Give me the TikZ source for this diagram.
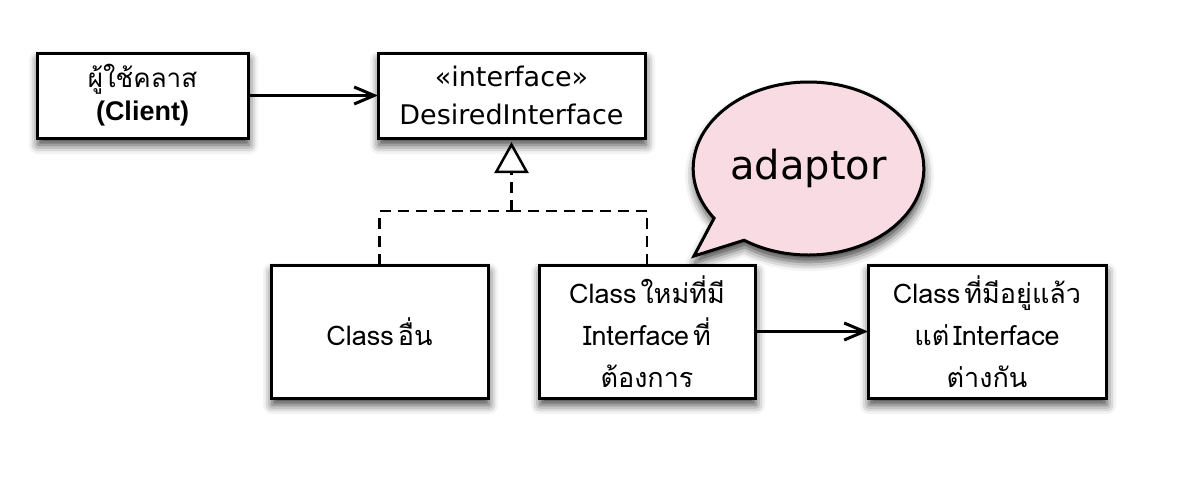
\documentclass[tikz,border=0pt]{standalone}
\usepackage{fontspec}
\setmainfont{DejaVu Sans}
\newfontfamily\thaifont[Script=Thai]{Loma}
\newfontfamily\helv{Liberation Sans}
\usetikzlibrary{arrows.meta,positioning,shapes.callouts,shadows.blur,backgrounds}
\definecolor{bubblepink}{RGB}{249,220,227}

\begin{document}
\begin{tikzpicture}[
  x=1pt, y=1pt,
  softshadow/.style={blur shadow={shadow xshift=1pt, shadow yshift=-7pt, shadow blur radius=9pt, shadow opacity=75}},
  box/.style={draw, line width=3pt, fill=white, align=center, outer sep=0pt, inner sep=0pt, minimum width=#1, softshadow},
  box/.default={216pt},
  classbox/.style={box=#1, minimum height=133pt, font=\thaifont\fontsize{27}{42}\selectfont},
  assoc/.style={draw, line width=2.5pt, -{Straight Barb[length=20pt, width=17pt, line width=3pt]}},
  realize/.style={draw, line width=2.5pt, dash pattern=on 11pt off 7pt},
  bubble/.style={ellipse callout, draw, line width=3pt, fill=bubblepink, softshadow, callout pointer arc=21},
]
\useasboundingbox (0,0) rectangle (1188,-482);

% top row
\node[box=211pt, minimum height=85pt, font=\fontsize{27}{33}\selectfont] (client) at (142.5,-95.5)
  {{\thaifont\fontsize{26}{33}\selectfont ผู้ใช้คลาส}\\{\helv\bfseries (Client)}};
\node[box=267pt, minimum height=85pt, font=\fontsize{27}{38}\selectfont, right=130pt of client] (desired)
  {«interface»\\DesiredInterface};

% bottom row
\node[classbox=217pt] (other) at (379.5,-331.5) {Class\kern4pt อื่น};
\node[classbox=216pt, right=51pt of other] (newclass) {Class\kern4pt ใหม่ที่มี\\Interface\kern4pt ที่\\ต้องการ};
\node[classbox=238pt, right=113pt of newclass] (existing) {Class\kern4pt ที่มีอยู่แล้ว\\แต่\kern4pt Interface\\ต่างกัน};

% speech bubble, kept behind the boxes
\begin{pgfonlayer}{background}
\node[bubble, minimum width=213pt, minimum height=173pt, font=\fontsize{40}{44}\selectfont,
  callout absolute pointer={([xshift=-61pt, yshift=9pt]newclass.north east)}] (note) at (808.5,-168.5) {adaptor};
\end{pgfonlayer}

% connectors
\draw[assoc] (client) -- (desired);
\draw[assoc] (newclass) -- (existing);

\coordinate (join) at (desired.south |- 0,-211);
\draw[realize] (other.north) |- (join);
\draw[realize] (newclass.north) |- (join);
\draw[realize, -{Triangle[open, length=31pt, width=34pt, line width=2.5pt]}, shorten >=4pt] (join) -- (desired.south);
\end{tikzpicture}
\end{document}
